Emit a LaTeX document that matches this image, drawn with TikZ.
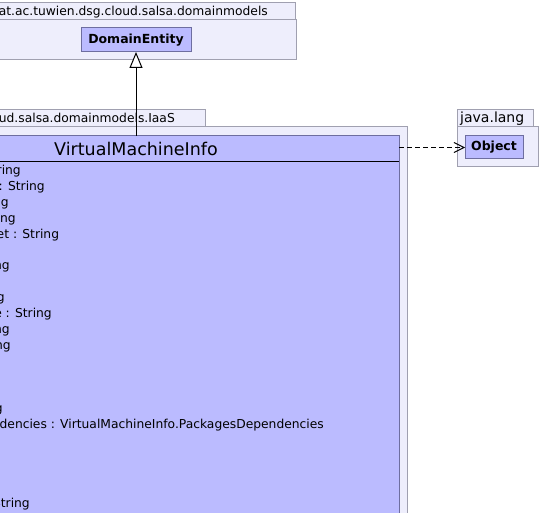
\documentclass[tikz,border=0pt]{standalone}
\usepackage{fontspec}
\setmainfont{DejaVu Sans}
\usetikzlibrary{arrows.meta}
\definecolor{pkgfill}{RGB}{238,238,252}
\definecolor{pkgline}{RGB}{160,160,176}
\definecolor{clsfill}{RGB}{187,187,255}
\definecolor{clsline}{RGB}{110,110,160}
\tikzset{
  box/.style={draw, inner sep=0pt, outer sep=0pt, line width=1pt},
  pkg/.style={box, draw=pkgline, fill=pkgfill},
  cls/.style={box, draw=clsline, fill=clsfill},
  attr/.style={anchor=mid east, inner sep=0pt, font=\fontsize{12.3}{14}\selectfont},
  pkgname/.style={inner sep=0pt, font=\fontsize{12.3}{14}\selectfont},
  clsname/.style={inner sep=0pt, font=\bfseries\fontsize{12.5}{14}\selectfont},
}
\begin{document}
\begin{tikzpicture}[x=1pt,y=-1pt]
\clip (0,0) rectangle (540,513);
\fill[white] (0,0) rectangle (540,513);
% package 1
\node[pkg, minimum width=305pt, minimum height=17pt] (p1tab) at (142.5,11.5) {};
\node[pkg, minimum width=306pt, minimum height=40pt] (p1body) at (143,40) {};
\node[pkgname, anchor=mid east] (p1name) at (268,12.5) {at.ac.tuwien.dsg.cloud.salsa.domainmodels};
\node[cls, minimum width=110pt, minimum height=24pt] (de) at (136,40) {};
\node[clsname] (detext) at (136,40) {DomainEntity};
% package 2
\node[pkg, minimum width=215pt, minimum height=17pt] (p2tab) at (97.5,118.5) {};
\node[pkg, minimum width=437pt, minimum height=400pt] (p2body) at (188.5,327) {};
\node[pkgname, anchor=mid east] (p2name) at (175,119.5) {ud.salsa.domainmodels.IaaS};
% java.lang
\node[pkg, minimum width=76pt, minimum height=17pt] (p3tab) at (495,118.5) {};
\node[pkg, minimum width=81pt, minimum height=40pt] (p3body) at (497.5,147) {};
\node[pkgname, anchor=mid west, font=\fontsize{14}{16}\selectfont] (p3name) at (460,119.5) {java.lang};
\node[cls, minimum width=58pt, minimum height=23pt] (obj) at (494,147.5) {};
\node[clsname] (objtext) at (494,147.5) {Object};
% class
\node[cls, minimum width=526pt, minimum height=394pt] (vmi) at (136,333) {};
\node[inner sep=0pt, font=\fontsize{17.5}{20}\selectfont] (vmitext) at (136,149) {VirtualMachineInfo};
\coordinate (divl) at (-127,162);
\coordinate (divr) at (399,162);
\draw[line width=1pt, black] (divl) -- (divr);
% attributes
\node[attr] (a1) at (21,172) {tring};
\node[attr] (a2) at (45,187.85) {: String};
\node[attr] (a3) at (9,203.7) {ng};
\node[attr] (a4) at (16,219.55) {ing};
\node[attr] (a5) at (59.3,235.4) {et : String};
\node[attr] (a7) at (10,267.1) {ng};
\node[attr] (a9) at (5,298.8) {g};
\node[attr] (a10) at (52,314.65) {e : String};
\node[attr] (a11) at (10,330.5) {ng};
\node[attr] (a12) at (11,346.35) {ng};
\node[attr] (a16) at (3,409.75) {g};
\node[attr] (a17) at (324,425.6) {dencies : VirtualMachineInfo.PackagesDependencies};
\node[attr] (a22) at (30,504.85) {String};
% connectors
\draw[line width=1pt, -{Triangle[length=16pt,width=13pt,fill=white,line width=1pt]}] (vmi.north) -- (de.south);
\coordinate (depstart) at (vmi.east |- obj.west);
\draw[line width=1pt, dash pattern=on 5pt off 3pt, -{Straight Barb[length=10pt,width=10pt,line width=1pt]}] (depstart) -- (obj.west);
\end{tikzpicture}
\end{document}
